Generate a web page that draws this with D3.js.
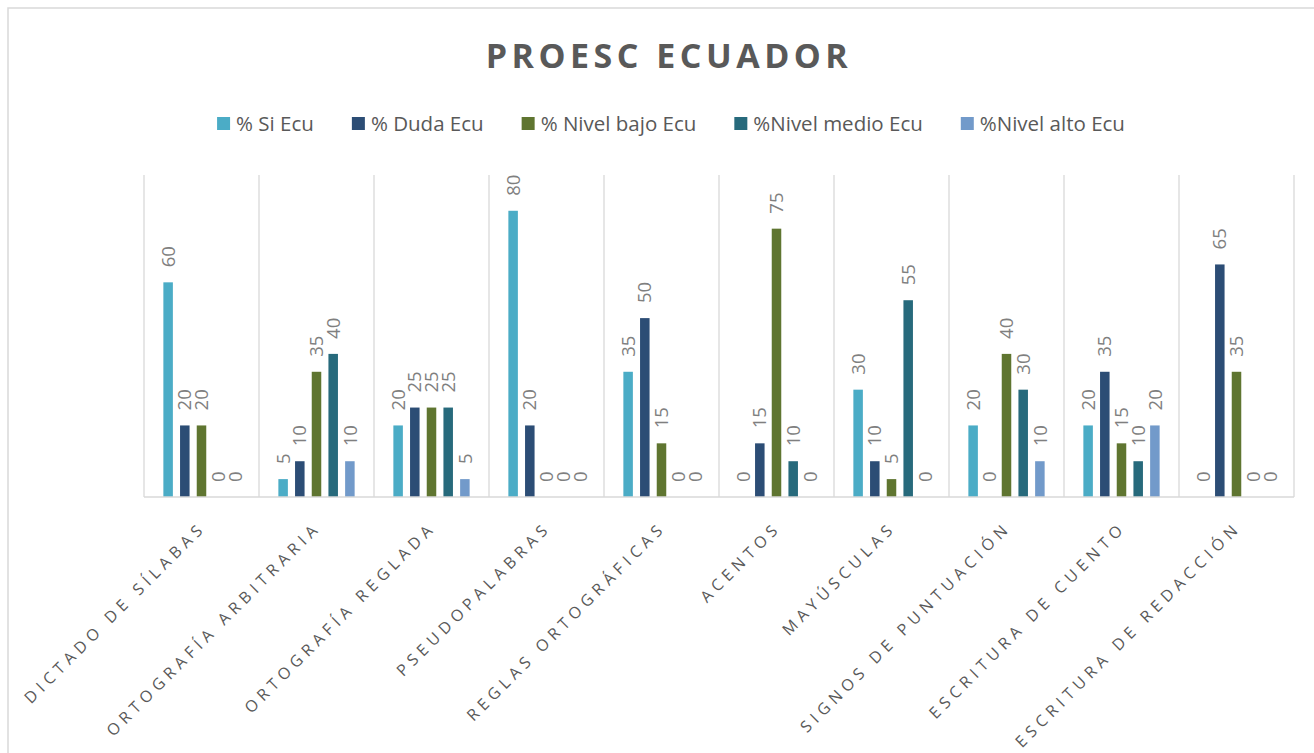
<!DOCTYPE html>
<html>
<head>
<meta charset="utf-8">
<script src="https://cdn.jsdelivr.net/npm/d3@7"></script>
<style>
  body { margin: 0; background: #fff; }
  svg text { font-family: "Open Sans", "Noto Sans", sans-serif; }
</style>
</head>
<body>
<div id="chart"></div>
<script>
var categories = ["DICTADO DE SÍLABAS", "ORTOGRAFÍA ARBITRARIA", "ORTOGRAFÍA REGLADA", "PSEUDOPALABRAS",
  "REGLAS ORTOGRÁFICAS", "ACENTOS", "MAYÚSCULAS", "SIGNOS DE PUNTUACIÓN", "ESCRITURA DE CUENTO", "ESCRITURA DE REDACCIÓN"];
var seriesNames = ["% Si Ecu", "% Duda Ecu", "% Nivel bajo Ecu", "%Nivel medio Ecu", "%Nivel alto Ecu"];
var siEcu    = [60, 5, 20, 80, 35, 0, 30, 20, 20, 0];
var dudaEcu  = [20, 10, 25, 20, 50, 15, 10, 0, 35, 65];
var bajoEcu  = [20, 35, 25, 0, 15, 75, 5, 40, 15, 35];
var medioEcu = [0, 40, 25, 0, 0, 10, 55, 30, 10, 0];
var altoEcu  = [0, 10, 5, 0, 0, 0, 0, 10, 20, 0];
var colors = ["#4bacc6", "#2c4d75", "#5f7530", "#276a7c", "#729aca"];

var seriesValues = [siEcu, dudaEcu, bajoEcu, medioEcu, altoEcu];

var width = 1314, height = 753;

var svg = d3.select("#chart").append("svg")
  .attr("width", width)
  .attr("height", height);

// chart frame
svg.append("rect")
  .attr("x", 8).attr("y", 8)
  .attr("width", width).attr("height", height)
  .attr("fill", "none")
  .attr("stroke", "#d9d9d9")
  .attr("stroke-width", 1.5);

// title
svg.append("text")
  .attr("x", 669).attr("y", 68)
  .attr("text-anchor", "middle")
  .style("font-size", "34px")
  .style("font-weight", "bold")
  .style("letter-spacing", "4.5px")
  .attr("fill", "#595959")
  .text("PROESC ECUADOR");

var x0 = d3.scaleBand()
  .domain(categories)
  .range([144, 1294])
  .padding(0);

var x1 = d3.scaleBand()
  .domain(seriesNames)
  .range([0, x0.bandwidth()])
  .paddingInner(0.43)
  .paddingOuter(1.16);

var y = d3.scaleLinear()
  .domain([0, 90])
  .range([497, 175]);

// category separators
var g = svg.append("g");
var bounds = categories.map(function(c){ return x0(c); }).concat([x0.range()[1]]);
g.selectAll(".sep")
  .data(bounds)
  .enter().append("line")
  .attr("x1", function(d){ return d; })
  .attr("x2", function(d){ return d; })
  .attr("y1", y(90))
  .attr("y2", y(0))
  .attr("stroke", "#d9d9d9")
  .attr("stroke-width", 1.3);

// bars
var groups = g.selectAll(".cat")
  .data(categories)
  .enter().append("g")
  .attr("transform", function(d){ return "translate(" + x0(d) + ",0)"; });

groups.selectAll("rect")
  .data(function(d, ci){ return seriesNames.map(function(s, si){ return { s: s, i: si, v: seriesValues[si][ci] }; }); })
  .enter().append("rect")
  .attr("x", function(d){ return x1(d.s); })
  .attr("y", function(d){ return y(d.v); })
  .attr("width", x1.bandwidth())
  .attr("height", function(d){ return y(0) - y(d.v); })
  .attr("fill", function(d){ return colors[d.i]; });

groups.selectAll(".lbl")
  .data(function(d, ci){ return seriesNames.map(function(s, si){ return { s: s, i: si, v: seriesValues[si][ci] }; }); })
  .enter().append("text")
  .attr("transform", function(d){
    return "translate(" + (x1(d.s) + x1.bandwidth() / 2) + "," + (y(d.v) - 15) + ") rotate(-90)";
  })
  .attr("dy", "0.36em")
  .attr("text-anchor", "start")
  .style("font-size", "18.5px")
  .attr("fill", "#7f7f7f")
  .text(function(d){ return d.v; });

// x axis baseline
svg.append("line")
  .attr("x1", 144).attr("x2", 1294)
  .attr("y1", y(0)).attr("y2", y(0))
  .attr("stroke", "#d9d9d9")
  .attr("stroke-width", 1.5);

// category labels
svg.selectAll(".catlbl")
  .data(categories)
  .enter().append("text")
  .attr("transform", function(d){
    return "translate(" + (x0(d) + x0.bandwidth() / 2 - 3) + ",520) rotate(-45)";
  })
  .attr("dy", "0.75em")
  .attr("text-anchor", "end")
  .style("font-size", "16px")
  .style("letter-spacing", "5px")
  .attr("fill", "#595959")
  .text(function(d){ return d; });

// legend
var legend = svg.append("g");
var lx = 0, gap = 38;
seriesNames.forEach(function(s, i){
  var item = legend.append("g").attr("transform", "translate(" + lx + ",0)");
  item.append("rect")
    .attr("x", 0).attr("y", 117)
    .attr("width", 13).attr("height", 13)
    .attr("fill", colors[i]);
  var t = item.append("text")
    .attr("x", 19).attr("y", 131)
    .style("font-size", "20.5px")
    .attr("fill", "#595959")
    .text(s);
  lx += 19 + t.node().getComputedTextLength() + gap;
});
var legendWidth = lx - gap;
legend.attr("transform", "translate(" + (671 - legendWidth / 2) + ",0)");
</script>
</body>
</html>
